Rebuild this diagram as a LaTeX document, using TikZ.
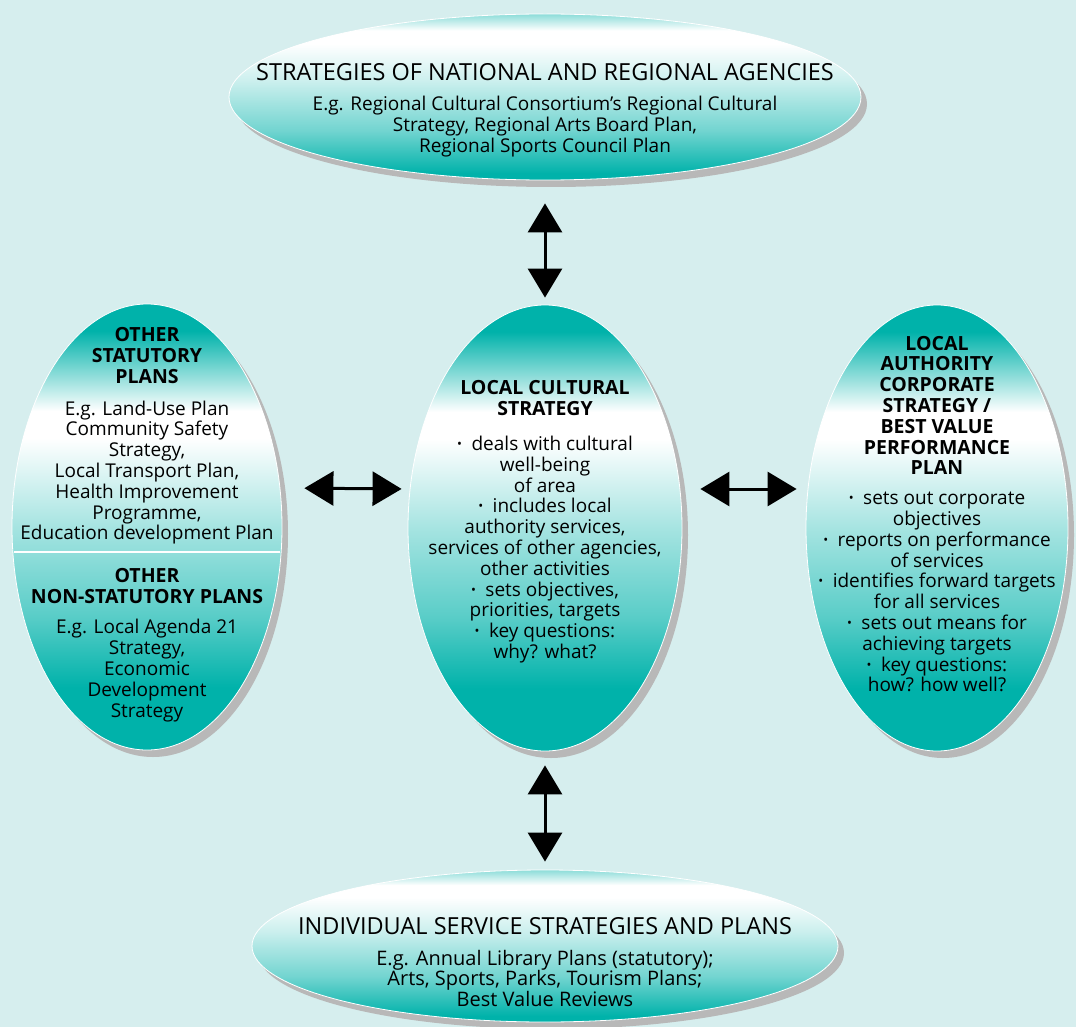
\documentclass[tikz,border=0pt]{standalone}
\usepackage{fontspec}
\setmainfont{Open Sans}
\usetikzlibrary{shapes.geometric,arrows.meta,shadows,calc}

\definecolor{bgcyan}{HTML}{D6EEEE}
\definecolor{lateal}{HTML}{00B2AA}
\definecolor{shadowgrey}{HTML}{B8B8B8}

% light band near the top, solid teal at the ends
\pgfdeclareverticalshading{vband}{100bp}{color(0bp)=(lateal); color(32bp)=(lateal);
  color(40bp)=(lateal!65!white); color(50bp)=(lateal!35!white); color(60bp)=(white);
  color(63bp)=(white); color(72bp)=(lateal); color(100bp)=(lateal)}
\pgfdeclareverticalshading{hband}{100bp}{color(0bp)=(lateal); color(27bp)=(lateal);
  color(40bp)=(lateal!55!white); color(55bp)=(lateal!20!white); color(66bp)=(white);
  color(70bp)=(white); color(75bp)=(lateal!45!white); color(100bp)=(lateal!45!white)}

\newcommand\dotitem{\raisebox{.2ex}{\fontsize{13}{13}\selectfont\textbullet}\enspace}
\newcommand\hd[1]{{\fontsize{19.5}{19.5}\selectfont\bfseries #1}}

\tikzset{
  blob/.style={ellipse, draw=white, line width=0.8pt, shade, inner sep=0pt,
    drop shadow={shadow xshift=6pt, shadow yshift=-7pt, fill=shadowgrey, opacity=1}},
  vblob/.style={blob, shading=vband, minimum width=#1, minimum height=446pt},
  hblob/.style={blob, shading=hband},
  blurb/.style={align=center, font=\fontsize{19}{20.8}\selectfont},
  dblarrow/.style={{Triangle[length=29pt,width=34pt]}-{Triangle[length=29pt,width=34pt]},
    line width=3pt}
}

\begin{document}
\begin{tikzpicture}[x=1pt,y=-1pt]
	\useasboundingbox (0,0) rectangle (1076,1027);
	\fill[bgcyan] (0,0) rectangle (1076,1027);

	% ellipses
	\node[hblob, minimum width=632pt, minimum height=166pt] (nat) at (545,97) {};
	\node[vblob=274pt] (lcs) at (545,528) {};
	\node[vblob=270pt] (other) at (147,527) {};
	\node[vblob=262pt] (lae) at (937,528) {};
	\node[hblob, minimum width=586pt, minimum height=152pt] (isp) at (545,946) {};

	\draw[white, line width=2pt] ($(other.center)+(-133,25)$) -- ($(other.center)+(133,25)$);

	% texts
	\node[blurb] (nattext) at (545,110) {{\fontsize{23.5}{26}\selectfont STRATEGIES OF NATIONAL AND REGIONAL AGENCIES}\\[10pt]
		E.g. Regional Cultural Consortium's Regional Cultural\\ Strategy, Regional Arts Board Plan,\\ Regional Sports Council Plan};
	\node[blurb] (lcstext) at (545,522) {\hd{LOCAL CULTURAL}\\ \hd{STRATEGY}\\[14pt]
		\dotitem deals with cultural\\ well-being\\ of area\\ \dotitem includes local\\ authority services,\\
		services of other agencies,\\ other activities\\ \dotitem sets objectives,\\ priorities, targets\\
		\dotitem key questions:\\ why? what?};
	\node[blurb] (othertop) at (147,436) {\hd{OTHER}\\ \hd{STATUTORY}\\ \hd{PLANS}\\[11pt]
		E.g. Land-Use Plan\\ Community Safety\\ Strategy,\\ Local Transport Plan,\\ Health Improvement\\
		Programme,\\ Education development Plan};
	\node[blurb] (otherbot) at (147,645) {\hd{OTHER}\\ \hd{NON-STATUTORY PLANS}\\[10pt]
		E.g. Local Agenda 21\\ Strategy,\\ Economic\\ Development\\ Strategy};
	\node[blurb] (laetext) at (937,514) {\hd{LOCAL}\\ \hd{AUTHORITY}\\ \hd{CORPORATE}\\ \hd{STRATEGY /}\\
		\hd{BEST VALUE}\\ \hd{PERFORMANCE}\\ \hd{PLAN}\\[9pt]
		\dotitem sets out corporate\\ objectives\\ \dotitem reports on performance\\ of services\\
		\dotitem identifies forward targets\\ for all services\\ \dotitem sets out means for\\
		achieving targets\\ \dotitem key questions:\\ how? how well?};
	\node[blurb, font=\fontsize{20}{20.5}\selectfont] (isptext) at (545,962) {{\fontsize{23.5}{24}\selectfont INDIVIDUAL SERVICE STRATEGIES AND PLANS}\\[10pt]
		E.g. Annual Library Plans (statutory);\\ Arts, Sports, Parks, Tourism Plans;\\ Best Value Reviews};

	% links
	\draw[dblarrow, shorten <=23pt, shorten >=7pt] (nat.south) -- (lcs.north);
	\draw[dblarrow, shorten <=14pt, shorten >=8pt] (lcs.south) -- (isp.north);
	\draw[dblarrow, shorten <=22pt, shorten >=6pt] ([yshift=39pt]other.east) -- ([yshift=39pt]lcs.west);
	\draw[dblarrow, shorten <=18pt, shorten >=9pt] ([yshift=39pt]lcs.east) -- ([yshift=39pt]lae.west);
\end{tikzpicture}
\end{document}
